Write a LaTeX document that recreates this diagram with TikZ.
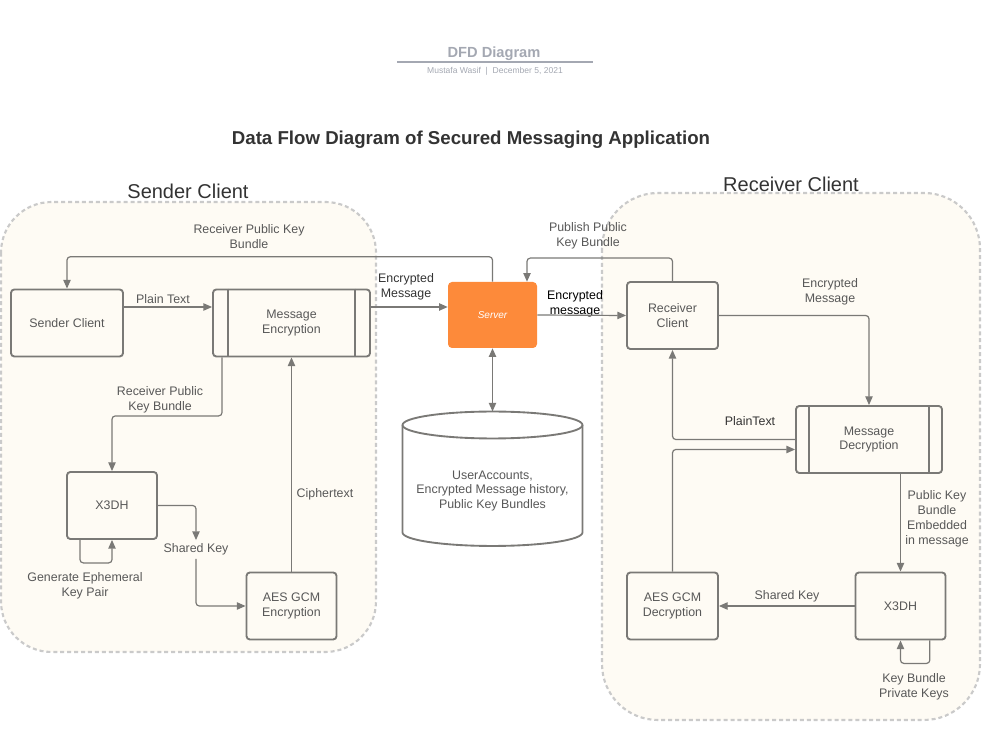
\documentclass[tikz,border=0pt]{standalone}
\usepackage{fontspec}
\setmainfont{Liberation Sans}
\usetikzlibrary{arrows.meta}
\definecolor{lc}{HTML}{7A7976}
\definecolor{tc}{HTML}{585858}
\definecolor{cream}{HTML}{FEFBF4}
\definecolor{dashc}{HTML}{CACACA}
\definecolor{orng}{HTML}{FD8A3A}
\definecolor{hdr}{HTML}{A4A8B2}
\definecolor{dark}{HTML}{333333}
\begin{document}
\begin{tikzpicture}[x=0.75pt,y=-0.75pt,
  every node/.style={font=\fontsize{9.3}{11.2}\selectfont, text=tc, align=center, inner sep=0pt},
  box/.style={draw=lc, line width=1.4pt, rounded corners=2.5pt, fill=cream,
              minimum width=67.5pt, minimum height=50.25pt},
  flow/.style={draw=lc, line width=0.9pt, rounded corners=2.5pt, -{Triangle[length=6.5pt,width=5.5pt]}},
  cluster/.style={draw=dashc, line width=1.6pt, dash pattern=on 3pt off 2.2pt, fill=cream},
  lbl/.style={text=tc, yshift=-1.1pt},
  hdrtext/.style={text=dark, font=\fontsize{15}{18}\selectfont}
]
\useasboundingbox (0,0) rectangle (993,730);

% clusters
\draw[cluster, rounded corners=38pt] (1,202) rectangle (376,652);
\draw[cluster, rounded corners=42pt] (602,193) rectangle (980,720);

% header
\node[text=hdr, font=\bfseries\fontsize{11}{13}\selectfont] (hdr) at (494,53.5) {DFD Diagram};
\coordinate (hl) at (397,62);
\coordinate (hr) at (593,62);
\draw[hdr, line width=1pt] (hl) -- (hr);
\node[text=hdr, font=\fontsize{6.4}{7.5}\selectfont] (sub) at (495,71) {Mustafa Wasif\ \ |\ \ December 5, 2021};
\node[text=dark, font=\bfseries\fontsize{14}{17}\selectfont] (title) at (471,139.5) {Data Flow Diagram of Secured Messaging Application};
\node[hdrtext] (sch) at (188,191) {Sender Client};
\node[hdrtext] (rch) at (791,184) {Receiver Client};

% helper coordinates
\coordinate (r307) at (0,307);
\coordinate (r449) at (0,449.5);
\coordinate (c222) at (222,0);
\coordinate (c527) at (527,0);

% nodes - sender
\node[box, minimum width=84pt] (sc) at (67,323) {Sender Client};
\node[box, minimum width=117.75pt] (me) at (291.5,323) {Message\\Encryption};
\draw[lc, line width=1.4pt] ([xshift=12pt]me.north west) -- ([xshift=12pt]me.south west);
\draw[lc, line width=1.4pt] ([xshift=-12pt]me.north east) -- ([xshift=-12pt]me.south east);
\node[box] (x3l) at (112,505.5) {X3DH};
\node[box] (aese) at (291.5,606) {AES GCM\\Encryption};

% server
\node[fill=orng, rounded corners=3pt, minimum width=66.75pt, minimum height=49.5pt,
      text=white, font=\itshape\fontsize{7.5}{9}\selectfont] (srv) at (492.5,315) {Server};

% database
\draw[lc, line width=1.4pt, fill=white] (402.5,425) -- (402.5,532.5)
  arc[start angle=180, end angle=360, x radius=67.5pt, y radius=10.1pt] -- (582.5,425)
  arc[start angle=0, end angle=180, x radius=67.5pt, y radius=10.1pt] -- cycle;
\draw[lc, line width=1.4pt] (402.5,425) arc[start angle=180, end angle=360, x radius=67.5pt, y radius=10.1pt];
\coordinate (dbtop) at (492.5,411.5);
\node (db) at (492.5,491) {UserAccounts,\\Encrypted Message history,\\Public Key Bundles};

% nodes - receiver
\node[box, minimum width=68.25pt] (rc) at (672.5,315.5) {Receiver\\Client};
\node[box, minimum width=109.5pt] (md) at (869,439.5) {Message\\Decryption};
\draw[lc, line width=1.4pt] ([xshift=10.5pt]md.north west) -- ([xshift=10.5pt]md.south west);
\draw[lc, line width=1.4pt] ([xshift=-10.5pt]md.north east) -- ([xshift=-10.5pt]md.south east);
\node[box, minimum width=68.25pt] (aesd) at (672.5,606) {AES GCM\\Decryption};
\node[box] (x3r) at (900.5,606) {X3DH};

% labels
\node[lbl] (l1) at (249,235.5) {Receiver Public Key\\Bundle};
\node[lbl] (l2) at (163,298) {Plain Text};
\node[lbl, text=dark] (l3) at (406,285.5) {Encrypted\\Message};
\node[lbl] (l4) at (160,398.5) {Receiver Public\\Key Bundle};
\node[lbl, inner sep=2.5pt] (sk1) at (196,548) {Shared Key};
\node[lbl] (l6) at (85,584.5) {Generate Ephemeral\\Key Pair};
\node[lbl] (l7) at (325,493) {Ciphertext};
\node[lbl, text=black] (l9) at (575,302) {Encrypted\\message};
\node[lbl] (l10) at (588,234.5) {Publish Public\\Key Bundle};
\node[lbl] (l11) at (830,290.5) {Encrypted\\Message};
\node[lbl, text=dark] (l12) at (750,420) {PlainText};
\node[lbl] (l14) at (937,517.5) {Public Key\\Bundle\\Embedded\\in message};
\node[lbl] (l15) at (787,595) {Shared Key};
\node[lbl] (l16) at (914,685.5) {Key Bundle\\Private Keys};

% connectors - sender side
\draw[flow] (srv.north) -- ++(0,-25) -| (sc.north);
\draw[flow] (sc.east |- r307) -- (me.west |- r307);
\draw[flow] (me.east |- r307) -- (srv.west |- r307);
\draw[flow] (me.south -| c222) -- ++(0,58.5) -| (x3l.north);
\draw[flow] (x3l.east) -| (sk1.north);
\draw[flow] (sk1.south) |- (aese.west);
\draw[flow] ([xshift=-24pt]x3l.south) -- ++(0,23) -| (x3l.south);
\draw[flow] (aese.north) -- (me.south);

% server - database
\draw[flow, {Triangle[length=6.5pt,width=5.5pt]}-{Triangle[length=6.5pt,width=5.5pt]}] (srv.south) -- (dbtop);

% connectors - receiver side
\draw[flow] (srv.east) -- (rc.west);
\draw[flow] (rc.north) -- ++(0,-23) -| (srv.north -| c527);
\draw[flow] (rc.east) -| (md.north);
\draw[flow] (md.west) -| (rc.south);
\draw[flow] (aesd.north) |- (md.west |- r449);
\draw[flow] (md.south -| x3r.north) -- (x3r.north);
\draw[flow] (x3r.west) -- (aesd.east);
\draw[flow] ([xshift=22pt]x3r.south) -- ++(0,23) -| (x3r.south);
\end{tikzpicture}
\end{document}
